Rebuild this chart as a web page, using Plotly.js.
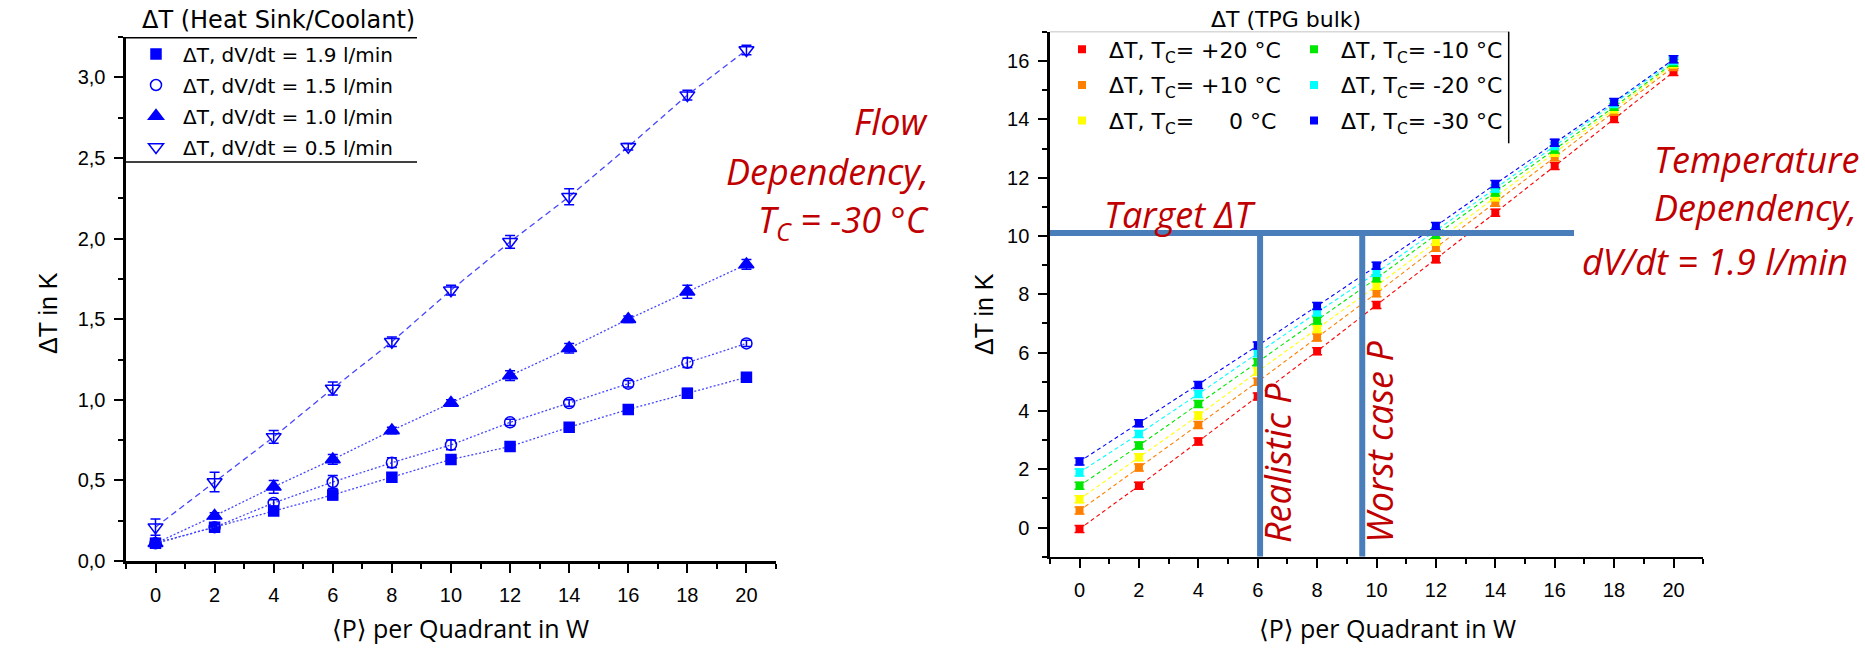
<!DOCTYPE html>
<html>
<head>
<meta charset="utf-8">
<script src="https://cdn.plot.ly/plotly-3.0.1.min.js"></script>
<style>
html,body{margin:0;padding:0;background:#fff;}
#chart{width:1865px;height:669px;}
</style>
</head>
<body>
<div id="chart"></div>
<script>
// ---------------- data ----------------
const power = [0, 2, 4, 6, 8, 10, 12, 14, 16, 18, 20];

// Left chart: ΔT (Heat Sink/Coolant), T_C = -30 °C
const flowNames = ['ΔT, dV/dt = 1.9 l/min', 'ΔT, dV/dt = 1.5 l/min', 'ΔT, dV/dt = 1.0 l/min', 'ΔT, dV/dt = 0.5 l/min'];
const dT_flow19 = [0.11, 0.21, 0.31, 0.41, 0.52, 0.63, 0.71, 0.83, 0.94, 1.04, 1.14];
const dT_flow15 = [0.11, 0.21, 0.36, 0.49, 0.61, 0.72, 0.86, 0.98, 1.10, 1.23, 1.35];
const dT_flow10 = [0.11, 0.28, 0.46, 0.63, 0.81, 0.98, 1.15, 1.32, 1.50, 1.67, 1.84];
const dT_flow05 = [0.21, 0.49, 0.77, 1.07, 1.36, 1.68, 1.98, 2.26, 2.57, 2.89, 3.17];
const err_flow19 = [0.03, 0.02, 0.02, 0.03, 0.02, 0.02, 0.02, 0.02, 0.02, 0.03, 0.02];
const err_flow15 = [0.02, 0.02, 0.02, 0.04, 0.03, 0.03, 0.02, 0.02, 0.02, 0.03, 0.02];
const err_flow10 = [0.02, 0.02, 0.04, 0.03, 0.02, 0.02, 0.03, 0.03, 0.02, 0.04, 0.03];
const err_flow05 = [0.05, 0.06, 0.04, 0.04, 0.03, 0.03, 0.04, 0.05, 0.02, 0.03, 0.03];

// Right chart: ΔT (TPG bulk), dV/dt = 1.9 l/min
const tcNames = [
  'ΔT, T<sub>C</sub>= +20 °C',
  'ΔT, T<sub>C</sub>= +10 °C',
  'ΔT, T<sub>C</sub>=\u2007\u2007\u20080 °C',
  'ΔT, T<sub>C</sub>= -10 °C',
  'ΔT, T<sub>C</sub>= -20 °C',
  'ΔT, T<sub>C</sub>= -30 °C'
];
const dT_tcP20 = [-0.05, 1.43, 2.95, 4.49, 6.05, 7.63, 9.20, 10.80, 12.40, 14.01, 15.63];
const dT_tcP10 = [0.58, 2.06, 3.52, 5.00, 6.52, 8.04, 9.60, 11.14, 12.70, 14.26, 15.80];
const dT_tc0   = [0.97, 2.41, 3.84, 5.35, 6.81, 8.29, 9.80, 11.33, 12.86, 14.35, 15.89];
const dT_tcM10 = [1.43, 2.81, 4.24, 5.67, 7.10, 8.55, 10.04, 11.49, 12.97, 14.43, 15.94];
const dT_tcM20 = [1.89, 3.21, 4.58, 5.98, 7.38, 8.74, 10.17, 11.63, 13.09, 14.53, 16.00];
const dT_tcM30 = [2.26, 3.58, 4.89, 6.24, 7.60, 8.98, 10.34, 11.78, 13.20, 14.60, 16.06];

// Reference lines on the right chart (data units)
const targetDT = 10.1;
const targetLineEndP = 16.65;
const realisticP = 6.08;
const worstCaseP = 9.52;

// ---------------- layout helpers ----------------
const W = 1865, H = 669;
const X = p => p / W;
const Y = p => 1 - p / H;

const BLUE = '#0000ff';
const LINEBLUE = '#4646ff';
const RED_TXT = '#c00000';
const SLIDE_BLUE = '#4a7ebb';
const tickFont = {family: 'Liberation Sans, Arial, sans-serif', size: 20, color: '#000'};
const legFont = {family: 'DejaVu Sans, sans-serif', color: '#000'};
const redFont = {family: 'Open Sans, sans-serif', size: 36, color: RED_TXT, style: 'italic'};
const xTitleFont = {family: 'Open Sans, DejaVu Sans, sans-serif', size: 25, color: '#000'};
const yTitleFont = {family: 'Liberation Sans, Arial, sans-serif', size: 25, color: '#000'};

const traces = [];

// left chart series
const flowSeries = [
  {y: dT_flow19, e: err_flow19, sym: 'square', size: 10, dash: '2px,2px'},
  {y: dT_flow15, e: err_flow15, sym: 'circle-open', size: 11, dash: '2px,2px'},
  {y: dT_flow10, e: err_flow10, sym: 'triangle-up', size: 13, dash: '2px,2px'},
  {y: dT_flow05, e: err_flow05, sym: 'triangle-down-open', size: 13, dash: '6px,4px'}
];
flowSeries.forEach((s, i) => {
  traces.push({
    x: power, y: s.y, xaxis: 'x', yaxis: 'y', mode: 'lines', showlegend: false,
    legendgroup: 'f' + i, hoverinfo: 'skip',
    line: {color: LINEBLUE, width: 1.3, dash: s.dash}
  });
  traces.push({
    x: power, y: s.y, xaxis: 'x', yaxis: 'y', mode: 'markers', name: flowNames[i],
    legend: 'legend', legendgroup: 'f' + i,
    marker: {symbol: s.sym, size: s.size, color: BLUE, line: {color: BLUE, width: 1.5}},
    error_y: {type: 'data', array: s.e, visible: true, color: BLUE, thickness: 1.5, width: 5}
  });
});

// right chart series
const tcSeries = [
  {y: dT_tcP20, c: '#ff0000'},
  {y: dT_tcP10, c: '#ff8000'},
  {y: dT_tc0,   c: '#ffff00'},
  {y: dT_tcM10, c: '#00e800'},
  {y: dT_tcM20, c: '#00ffff'},
  {y: dT_tcM30, c: '#0000ff'}
];
tcSeries.forEach((s, i) => {
  traces.push({
    x: power, y: s.y, xaxis: 'x2', yaxis: 'y2', mode: 'lines', showlegend: false,
    legendgroup: 't' + i, hoverinfo: 'skip',
    line: {color: s.c, width: 1.1, dash: '4px,3px'}
  });
  traces.push({
    x: power, y: s.y, xaxis: 'x2', yaxis: 'y2', mode: 'markers', name: tcNames[i],
    legend: i < 3 ? 'legend2' : 'legend3', legendgroup: 't' + i,
    marker: {symbol: 'square', size: 8, color: s.c},
    error_y: {type: 'constant', value: 0.12, visible: true, color: s.c, thickness: 1.5, width: 5}
  });
});

function axis(extra) {
  return Object.assign({
    showline: true, linecolor: '#000', linewidth: 2.5,
    ticks: 'outside', ticklen: 9, tickwidth: 2, tickcolor: '#000',
    showgrid: false, zeroline: false, tickfont: tickFont, ticklabelstandoff: 5
  }, extra);
}
const minorX = {ticks: 'outside', ticklen: 5, tickwidth: 2, tickcolor: '#000', dtick: 1, showgrid: false};

function ann(text, x, y, font, opts) {
  return Object.assign({xref: 'paper', yref: 'paper', x: X(x), y: Y(y), text: text,
    showarrow: false, xanchor: 'center', yanchor: 'middle', font: font}, opts || {});
}
function pline(x0, y0, x1, y1, color, width) {
  return {type: 'line', xref: 'paper', yref: 'paper', x0: X(x0), y0: Y(y0), x1: X(x1), y1: Y(y1),
    line: {color: color, width: width}};
}

const layout = {
  width: W, height: H,
  margin: {l: 0, r: 0, t: 0, b: 0, pad: 0, autoexpand: false},
  paper_bgcolor: '#fff', plot_bgcolor: '#fff',
  separators: ',.',
  showlegend: true,
  xaxis: axis({domain: [X(125.95), X(776)], range: [-1, 21], anchor: 'y', tick0: 0, dtick: 2, minor: minorX}),
  yaxis: axis({domain: [Y(561), Y(37.1)], range: [0, 3.25], anchor: 'x', tick0: 0, dtick: 0.5, tickformat: '.1f',
    minor: {ticks: 'outside', ticklen: 5, tickwidth: 2, tickcolor: '#000', dtick: 0.25, showgrid: false}}),
  xaxis2: axis({domain: [X(1049.8), X(1703.2)], range: [-1, 21], anchor: 'y2', tick0: 0, dtick: 2, minor: minorX}),
  yaxis2: axis({domain: [Y(556.65), Y(31.95)], range: [-1, 17], anchor: 'x2', tick0: 0, dtick: 2, tickformat: 'd',
    minor: {ticks: 'outside', ticklen: 5, tickwidth: 2, tickcolor: '#000', dtick: 1, showgrid: false}}),
  legend: {x: X(129), y: Y(34.5), xanchor: 'left', yanchor: 'top', bgcolor: 'rgba(0,0,0,0)', borderwidth: 0,
    font: Object.assign({size: 20}, legFont), itemwidth: 44, tracegroupgap: 2, traceorder: 'grouped'},
  legend2: {x: X(1055), y: Y(28.5), xanchor: 'left', yanchor: 'top', bgcolor: 'rgba(0,0,0,0)', borderwidth: 0,
    font: Object.assign({size: 22}, legFont), itemwidth: 44, tracegroupgap: 4, traceorder: 'grouped'},
  legend3: {x: X(1287), y: Y(28.5), xanchor: 'left', yanchor: 'top', bgcolor: 'rgba(0,0,0,0)', borderwidth: 0,
    font: Object.assign({size: 22}, legFont), itemwidth: 44, tracegroupgap: 4, traceorder: 'grouped'},
  shapes: [
    // legend frame lines (left)
    pline(126, 37.7, 417, 37.7, '#000', 1.5),
    pline(126, 162, 417, 162, '#000', 1.5),
    // legend frame lines (right)
    pline(1050, 31.7, 1509, 31.7, '#d8d8d8', 1.5),
    pline(1508.7, 31.7, 1508.7, 143.3, '#000', 1.5),
    // target / power markers on the right chart
    {type: 'line', xref: 'x2', yref: 'y2', x0: -1, x1: targetLineEndP, y0: targetDT, y1: targetDT,
      line: {color: SLIDE_BLUE, width: 6}, layer: 'above'},
    {type: 'line', xref: 'x2', yref: 'y2', x0: realisticP, x1: realisticP, y0: -1, y1: targetDT,
      line: {color: SLIDE_BLUE, width: 6}, layer: 'above'},
    {type: 'line', xref: 'x2', yref: 'y2', x0: worstCaseP, x1: worstCaseP, y0: -1, y1: targetDT,
      line: {color: SLIDE_BLUE, width: 6}, layer: 'above'}
  ],
  annotations: [
    // legend titles
    ann('ΔT (Heat Sink/Coolant)', 417, 20, {family: 'DejaVu Sans, sans-serif', size: 24, color: '#000'}, {xanchor: 'right'}),
    ann('ΔT (TPG bulk)', 1286, 19, {family: 'DejaVu Sans, sans-serif', size: 22, color: '#000'}),
    // axis titles
    ann('ΔT in K', 48, 313, yTitleFont, {textangle: -90}),
    ann('ΔT in K', 984, 314, yTitleFont, {textangle: -90}),
    ann('⟨P⟩ per Quadrant in W', 460, 628, xTitleFont),
    ann('⟨P⟩ per Quadrant in W', 1387, 628, xTitleFont),
    // red slide texts
    ann('Flow', 931, 121, redFont, {xanchor: 'right'}),
    ann('Dependency,', 931, 171, redFont, {xanchor: 'right'}),
    ann('T<sub>C</sub> = -30 °C', 931, 221, redFont, {xanchor: 'right'}),
    ann('Temperature', 1652, 159, redFont, {xanchor: 'left'}),
    ann('Dependency,', 1652, 208, redFont, {xanchor: 'left'}),
    ann('dV/dt = 1.9 l/min', 1580, 261, redFont, {xanchor: 'left'}),
    ann('Target ΔT', 1102, 214, redFont, {xanchor: 'left'}),
    ann('Realistic P', 1277, 463, redFont, {textangle: -90}),
    ann('Worst case P', 1379, 442, redFont, {textangle: -90})
  ]
};

Plotly.newPlot('chart', traces, layout, {displayModeBar: false, staticPlot: true});
</script>
</body>
</html>
